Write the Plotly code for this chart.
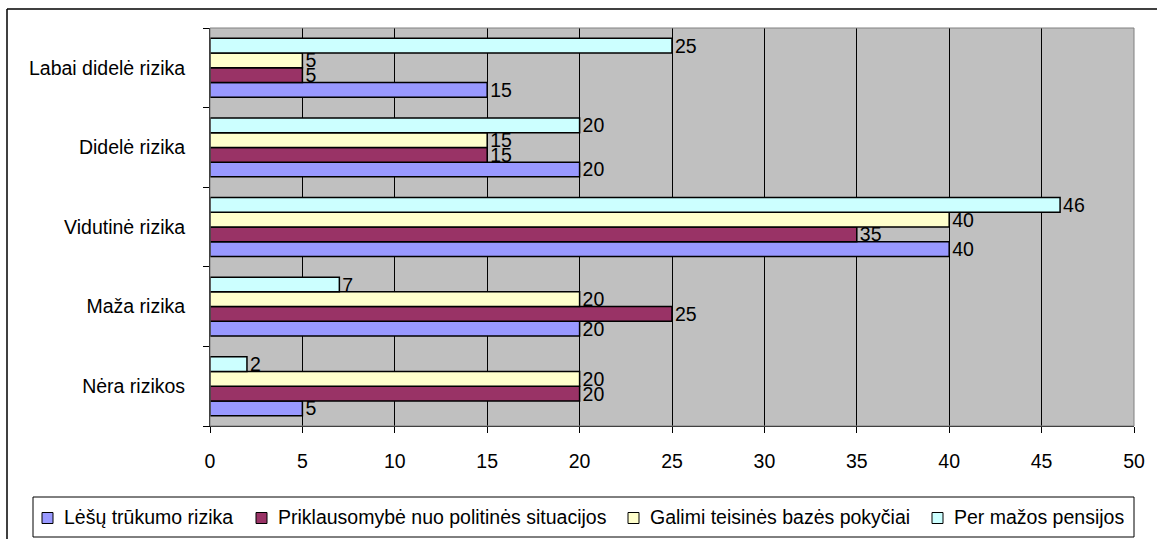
import plotly.graph_objects as go

# Risk categories (bottom to top on the y axis)
categories = ["Nėra rizikos", "Maža rizika", "Vidutinė rizika", "Didelė rizika", "Labai didelė rizika"]

# Series values per category
lesu_trukumas = [5, 20, 40, 20, 15]
politine_situacija = [20, 25, 35, 15, 5]
teisines_bazes_pokyciai = [20, 20, 40, 15, 5]
per_mazos_pensijos = [2, 7, 46, 20, 25]

series_names = [
    "Lėšų trūkumo rizika",
    "Priklausomybė nuo politinės situacijos",
    "Galimi teisinės bazės pokyčiai",
    "Per mažos pensijos",
]
series_values = [lesu_trukumas, politine_situacija, teisines_bazes_pokyciai, per_mazos_pensijos]
series_colors = ["#9999FF", "#993366", "#FFFFCC", "#CCFFFF"]

x_ticks = [0, 5, 10, 15, 20, 25, 30, 35, 40, 45, 50]

FONT = "Liberation Sans, Arial, sans-serif"
FONT_SIZE = 19.5

# Plot-area geometry in pixels
W, H = 1157, 539
L, R, T, B = 210, 23, 28, 113
PW, PH = W - L - R, H - T - B


def px_x(x):
    return (x - L) / PW


def px_y(y):
    return (H - B - y) / PH


fig = go.Figure()
for name, vals, col in zip(series_names, series_values, series_colors):
    fig.add_trace(go.Bar(
        y=categories,
        x=vals,
        name=name,
        orientation="h",
        marker=dict(color=col, line=dict(color="black", width=1.5)),
        text=[str(v) for v in vals],
        textposition="outside",
        textfont=dict(family=FONT, size=FONT_SIZE, color="black"),
        constraintext="none",
        cliponaxis=False,
        showlegend=False,
    ))

# Legend box drawn below the chart: frame, colour keys and names
legend_box = dict(x0=33, x1=1134, y0=497, y1=537)
legend_key_x = [42, 256, 628, 932]   # left edge of each colour key (px)
key_size = 11
key_to_text = 20
legend_mid_y = (legend_box["y0"] + legend_box["y1"]) / 2

shapes = [
    # plot-area frame (top/right in gray)
    dict(type="rect", xref="x domain", yref="y domain", x0=0, x1=1, y0=0, y1=1,
         line=dict(color="#808080", width=1), layer="above"),
    # outer chart frame
    dict(type="line", xref="paper", yref="paper",
         x0=px_x(7), x1=px_x(7), y0=px_y(9), y1=px_y(560),
         line=dict(color="black", width=1.5)),
    dict(type="line", xref="paper", yref="paper",
         x0=px_x(7), x1=px_x(1180), y0=px_y(9), y1=px_y(9),
         line=dict(color="black", width=1.5)),
    # legend frame
    dict(type="rect", xref="paper", yref="paper",
         x0=px_x(legend_box["x0"]), x1=px_x(legend_box["x1"]),
         y0=px_y(legend_box["y0"]), y1=px_y(legend_box["y1"]),
         line=dict(color="black", width=1), fillcolor="white"),
]
annotations = []
for name, col, kx in zip(series_names, series_colors, legend_key_x):
    shapes.append(dict(
        type="rect", xref="paper", yref="paper",
        x0=px_x(kx), x1=px_x(kx + key_size),
        y0=px_y(legend_mid_y - key_size / 2 + 1), y1=px_y(legend_mid_y + key_size / 2 + 1),
        line=dict(color="black", width=1), fillcolor=col,
    ))
    annotations.append(dict(
        xref="paper", yref="paper",
        x=px_x(kx + key_to_text), y=px_y(legend_mid_y),
        xanchor="left", yanchor="middle",
        text=name, showarrow=False,
        font=dict(family=FONT, size=FONT_SIZE, color="black"),
    ))

fig.update_layout(
    width=W,
    height=H,
    margin=dict(l=L, r=R, t=T, b=B),
    paper_bgcolor="white",
    plot_bgcolor="#C0C0C0",
    barmode="group",
    bargap=0.26,
    bargroupgap=0,
    font=dict(family=FONT, size=FONT_SIZE, color="black"),
    showlegend=False,
    xaxis=dict(
        range=[0, 50],
        tickvals=x_ticks,
        ticktext=[str(t) for t in x_ticks],
        showgrid=True,
        gridcolor="black",
        gridwidth=1,
        zeroline=False,
        showline=True,
        linecolor="black",
        linewidth=1,
        ticks="outside",
        ticklen=6,
        tickcolor="black",
        tickfont=dict(family=FONT, size=FONT_SIZE, color="black"),
        ticklabelstandoff=12,
        fixedrange=True,
    ),
    yaxis=dict(
        categoryorder="array",
        categoryarray=categories,
        showgrid=False,
        zeroline=False,
        showline=True,
        linecolor="black",
        linewidth=1,
        ticks="outside",
        ticklen=6,
        tickcolor="black",
        tickson="boundaries",
        tickfont=dict(family=FONT, size=FONT_SIZE, color="black"),
        ticklabelstandoff=20,
        fixedrange=True,
    ),
    shapes=shapes,
    annotations=annotations,
)

fig.write_html("out.html")
